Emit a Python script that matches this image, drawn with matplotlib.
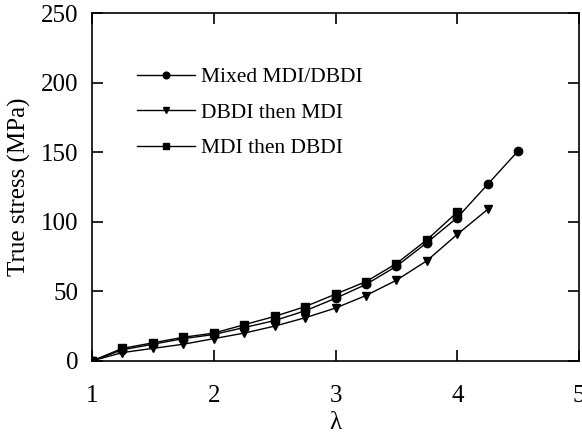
import matplotlib.pyplot as plt

plt.rcParams['font.family'] = ['Liberation Serif', 'DejaVu Serif']

# データ
lam_mixed = [1.0, 1.25, 1.5, 1.75, 2.0, 2.25, 2.5, 2.75, 3.0, 3.25, 3.5, 3.75, 4.0, 4.25, 4.5]
stress_mixed = [0, 8, 12, 16, 19, 24, 29, 36, 45, 55, 68, 85, 103, 127, 151]

lam_dbdi = [1.0, 1.25, 1.5, 1.75, 2.0, 2.25, 2.5, 2.75, 3.0, 3.25, 3.5, 3.75, 4.0, 4.25]
stress_dbdi = [0, 6, 9, 12, 16, 20, 25, 31, 38, 47, 58, 72, 91, 109]

lam_mdi = [1.0, 1.25, 1.5, 1.75, 2.0, 2.25, 2.5, 2.75, 3.0, 3.25, 3.5, 3.75, 4.0]
stress_mdi = [0, 9, 13, 17, 20, 26, 32, 39, 48, 57, 70, 87, 107]

labels = ['Mixed MDI/DBDI', 'DBDI then MDI', 'MDI then DBDI']

fig = plt.figure(figsize=(5.82, 4.38), dpi=100)
ax = fig.add_axes([0.158, 0.176, 0.837, 0.794])

ax.plot(lam_mixed, stress_mixed, color='black', lw=1.0, marker='o', ms=6, label=labels[0])
ax.plot(lam_dbdi, stress_dbdi, color='black', lw=1.0, marker='v', ms=6, label=labels[1])
ax.plot(lam_mdi, stress_mdi, color='black', lw=1.0, marker='s', ms=6, label=labels[2])

ax.set_xlim(1, 5)
ax.set_ylim(0, 250)
ax.set_xticks([1, 2, 3, 4, 5])
ax.set_yticks([0, 50, 100, 150, 200, 250])
ax.tick_params(direction='in', top=True, right=True, length=8, width=1.2, labelsize=18)
ax.tick_params(axis='x', pad=17)
ax.tick_params(axis='y', pad=10)
for s in ax.spines.values():
    s.set_linewidth(1.2)

ax.set_xlabel('λ', fontsize=18, labelpad=4)
ax.set_ylabel('True stress (MPa)', fontsize=18, labelpad=7)

ax.legend(loc='upper left', bbox_to_anchor=(0.092, 0.845), frameon=False, fontsize=15.5,
          markerscale=0.8, handlelength=2.7, handletextpad=0.3, labelspacing=0.72,
          borderpad=0, borderaxespad=0)

fig.savefig('out.png', dpi=100)
